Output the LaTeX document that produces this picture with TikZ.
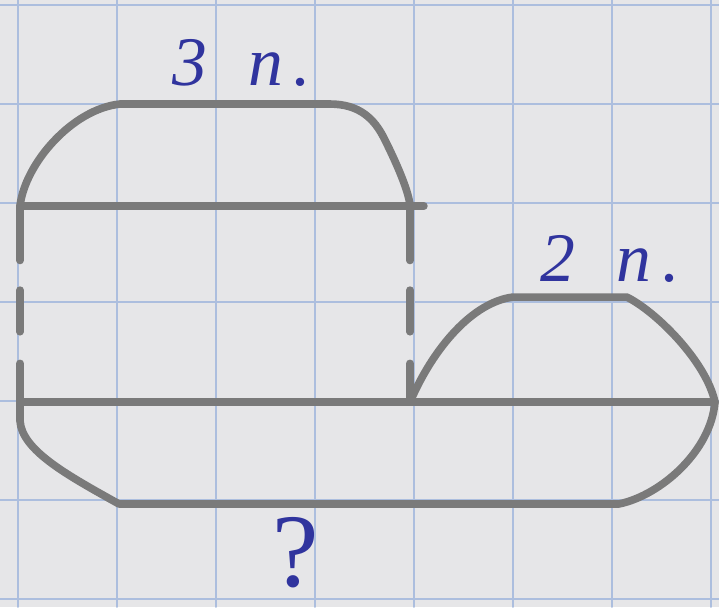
\documentclass[tikz,border=0pt]{standalone}
\usepackage{fontspec}
\newfontfamily\handfont{Liberation Serif}
\definecolor{paper}{RGB}{230,230,232}
\definecolor{gridblue}{RGB}{172,190,222}
\definecolor{pencil}{RGB}{122,122,122}
\definecolor{ink}{RGB}{48,52,158}

\begin{document}
\begin{tikzpicture}[line cap=round,line join=round,x=1cm,y=1cm,
  pencil line/.style={draw=pencil,line width=2.2pt},
  dashed side/.style={pencil line,dash pattern=on 0.55cm off 0.3cm on 0.42cm off 0.32cm on 1cm},
  ink label/.style={text=ink,inner sep=0pt,font=\handfont\itshape\fontsize{20}{24}\selectfont}]
  % paper and grid
  \fill[paper] (-0.182,-0.081) rectangle (7.081,6.051);
  \useasboundingbox (-0.182,-0.081) rectangle (7.081,6.051);
  \foreach \x in {0,...,7} {
    \draw[gridblue,line width=0.5pt] (\x,-0.081) -- (\x,6.051);
  }
  \foreach \y in {0,...,6} {
    \draw[gridblue,line width=0.5pt] (-0.182,\y) -- (7.081,\y);
  }
  \coordinate (upper left) at (0.02,3.97);
  \coordinate (upper right) at (3.96,3.97);
  \coordinate (middle left) at (0.02,1.99);
  \coordinate (middle right) at (7.04,1.99);
  \coordinate (joint) at (3.96,1.99);
  % big part
  \draw[pencil line] (upper left) -- (4.1,3.97);
  \draw[pencil line] (upper left) .. controls (0.07,4.4) and (0.55,4.95) .. (1.03,5.0)
    -- (3.15,5.0) .. controls (3.45,5.0) and (3.6,4.85) .. (3.7,4.65)
    .. controls (3.85,4.35) and (3.95,4.1) .. (upper right);
  \draw[dashed side] (upper left) -- (middle left);
  \draw[dashed side] (upper right) -- (joint);
  % small part
  \draw[pencil line] (joint) .. controls (4.2,2.55) and (4.6,3.0) .. (5.0,3.05)
    -- (6.15,3.05) .. controls (6.45,2.9) and (6.95,2.4) .. (middle right);
  % both together
  \draw[pencil line] (middle left) -- (middle right);
  \draw[pencil line] (middle left) -- (0.02,1.8) .. controls (0.04,1.5) and (0.5,1.25) .. (1.02,0.96)
    -- (6.07,0.96) .. controls (6.5,1.05) and (7.0,1.5) .. (middle right);
  \node[ink label] (big count) at (2.26,5.42) {3\hspace{0.6em}п\hspace{0.15em}.};
  \node[ink label] (small count) at (5.98,3.44) {2\hspace{0.6em}п\hspace{0.15em}.};
  \node[ink label,font=\handfont\fontsize{30}{36}\selectfont] (question) at (2.8,0.47) {?};
\end{tikzpicture}
\end{document}
